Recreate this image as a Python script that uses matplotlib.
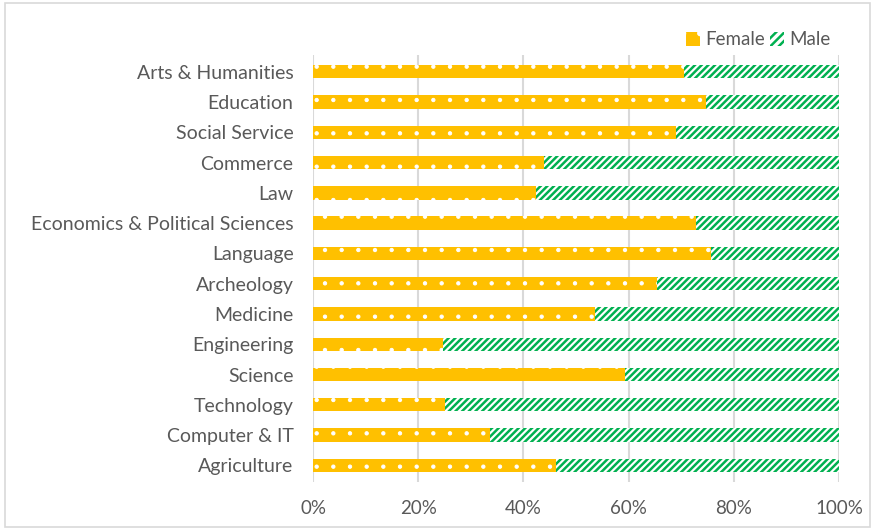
import matplotlib
matplotlib.use("Agg")
import matplotlib.pyplot as plt
from matplotlib.patches import Patch, Rectangle

# Data (female share, %)
fields = ['Arts & Humanities', 'Education', 'Social Service', 'Commerce', 'Law',
          'Economics & Political Sciences', 'Language', 'Archeology', 'Medicine',
          'Engineering', 'Science', 'Technology', 'Computer & IT', 'Agriculture']
female = [70.5, 74.7, 69.0, 43.9, 42.4, 72.8, 75.7, 65.4, 53.6, 24.7, 59.3, 25.1, 33.7, 46.2]
male = [100 - f for f in female]
xticks = [0, 20, 40, 60, 80, 100]

gold = '#FFC000'
green = '#00B050'
text_col = '#595959'

plt.rcParams['font.family'] = ['Lato', 'DejaVu Sans']
plt.rcParams['hatch.linewidth'] = 1.8


def thin_dots(patches, lw):
    # smaller dots for the female pattern
    for p in patches:
        try:
            p.set_hatch_linewidth(lw)
        except AttributeError:
            pass


fig = plt.figure(figsize=(8.78, 5.30), dpi=100)
ax = fig.add_axes([0.3565, 0.0906, 0.5991, 0.8054])

y = list(range(len(fields)))
with plt.rc_context({'hatch.linewidth': 0.7}):
    fbars = ax.barh(y, female, height=0.44, color=gold, edgecolor='white', linewidth=0,
                    hatch='.', zorder=2)
thin_dots(fbars, 0.7)
ax.barh(y, male, left=female, height=0.44, color='white', edgecolor=green, linewidth=0,
        hatch='/////', zorder=2)

ax.set_xlim(0, 100)
ax.set_ylim(13.55, -0.55)
ax.set_yticks(y)
ax.set_yticklabels(fields, fontsize=14, color=text_col)
ax.set_xticks(xticks)
ax.set_xticklabels([f'{t}%' for t in xticks], fontsize=13.5, color=text_col)
ax.tick_params(length=0)
ax.tick_params(axis='y', pad=14)
ax.tick_params(axis='x', pad=13)
ax.xaxis.grid(True, color='#D9D9D9', linewidth=1.5, zorder=0)
ax.set_axisbelow(True)
for s in ax.spines.values():
    s.set_visible(False)

with plt.rc_context({'hatch.linewidth': 0.7}):
    fpatch = Patch(facecolor=gold, edgecolor='white', linewidth=0, hatch='.', label='Female')
thin_dots([fpatch], 0.7)
handles = [fpatch,
           Patch(facecolor='white', edgecolor=green, linewidth=0, hatch='////', label='Male')]
fig.legend(handles=handles, loc='center right', bbox_to_anchor=(0.965, 0.925), ncol=2,
           frameon=False, fontsize=13.5, labelcolor=text_col, handlelength=0.75,
           handleheight=0.75, handletextpad=0.25, columnspacing=0.3)

fig.patches.append(Rectangle((0.006, 0.006), 0.985, 0.988, transform=fig.transFigure,
                             fill=False, edgecolor='#D9D9D9', linewidth=1.2))

fig.savefig('out.png', dpi=100)
